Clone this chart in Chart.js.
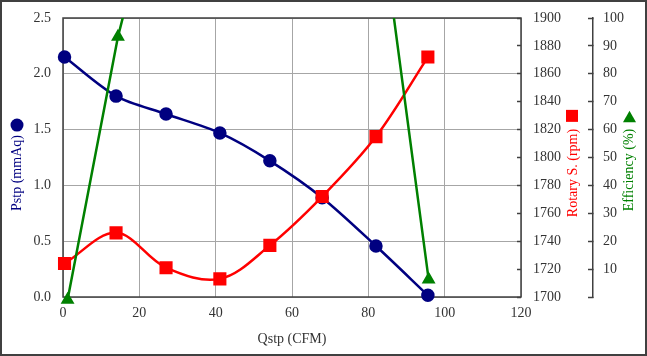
<!DOCTYPE html>
<html><head><meta charset="utf-8">
<script src="https://cdn.jsdelivr.net/npm/chart.js@4/dist/chart.umd.min.js"></script>
<style>html,body{margin:0;padding:0;background:#fff;} #c{display:block;}</style>
</head><body>
<canvas id="c" width="647" height="356"></canvas>
<script>
// ---- data ----
const qstp       = [0.4, 13.9, 27.0, 41.1, 54.2, 67.9, 82.0, 95.6];
const qstpEff    = [1.2, 14.4, 27.0, 41.1, 54.2, 67.9, 82.0, 95.8];
const pstp       = [2.15, 1.80, 1.64, 1.47, 1.22, 0.89, 0.457, 0.015];
const rotary     = [1724, 1746, 1721, 1713, 1737, 1772, 1815, 1872];
const efficiency = [-1, 93.3, 161, 185, 192, 178, 148.5, 6.3];

const xTitle   = 'Qstp (CFM)';
const yTitle   = 'Pstp (mmAq)';
const y2Title  = 'Rotary S. (rpm)';
const y3Title  = 'Efficiency (%)';

const BLUE = '#000080', RED = '#FF0000', GREEN = '#008000';
const AXIS = '#404040', GRID = '#A6A6A6', TXT = '#333333';
const FONT = {family: '"Liberation Serif", "Times New Roman", serif', size: 14};

const pts = (xs, ys) => xs.map((x, i) => ({x, y: ys[i]}));
const noPad = s => { s.paddingTop = 0; s.paddingBottom = 0; s.paddingLeft = 0; s.paddingRight = 0; };

const deco = {
  id: 'deco',
  beforeDraw(chart) {
    const ctx = chart.ctx;
    ctx.save(); ctx.fillStyle = '#fff'; ctx.fillRect(0, 0, chart.width, chart.height); ctx.restore();
  },
  beforeDatasetsDraw(chart) {
    const {ctx, chartArea: a} = chart;
    ctx.save(); ctx.strokeStyle = AXIS; ctx.lineWidth = 1.5;
    ctx.strokeRect(a.left, a.top, a.right - a.left, a.bottom - a.top);
    ctx.restore();
  },
  afterDraw(chart) {
    const ctx = chart.ctx;
    ctx.save();
    // outer frame
    ctx.strokeStyle = AXIS; ctx.lineWidth = 2;
    ctx.strokeRect(1, 1, chart.width - 2, chart.height - 2);
    ctx.font = FONT.size + 'px ' + FONT.family;
    const vtext = (text, x, y, color) => {
      ctx.save(); ctx.translate(x, y); ctx.rotate(-Math.PI / 2);
      ctx.textAlign = 'center'; ctx.textBaseline = 'middle'; ctx.fillStyle = color;
      ctx.fillText(text, 0, 0); ctx.restore();
      return ctx.measureText(text).width;
    };
    // left title + circle
    let w = vtext(yTitle, 17, 173, BLUE);
    ctx.fillStyle = BLUE; ctx.beginPath(); ctx.arc(17, 173 - w / 2 - 10, 6.5, 0, Math.PI * 2); ctx.fill();
    // rotary title + square
    w = vtext(y2Title, 573, 173, RED);
    ctx.fillStyle = RED; ctx.fillRect(566, 173 - w / 2 - 19, 12, 12);
    // efficiency title + triangle
    w = vtext(y3Title, 629, 170, GREEN);
    const ty = 170 - w / 2 - 12;
    ctx.fillStyle = GREEN; ctx.beginPath();
    ctx.moveTo(629.5, ty - 6); ctx.lineTo(636, ty + 5.5); ctx.lineTo(623, ty + 5.5); ctx.closePath(); ctx.fill();
    ctx.restore();
  }
};

new Chart(document.getElementById('c'), {
  type: 'line',
  data: {
    datasets: [
      {label: 'Pstp', data: pts(qstp, pstp), yAxisID: 'y', borderColor: BLUE, backgroundColor: BLUE,
       borderWidth: 2.5, pointStyle: 'circle', pointRadius: 5.5, tension: 0.3, clip: false, order: 3},
      {label: 'Rotary', data: pts(qstp, rotary), yAxisID: 'y2', borderColor: RED, backgroundColor: RED,
       borderWidth: 2.5, pointStyle: 'rect', pointRadius: 7.5, tension: 0.35, clip: false, order: 2},
      {label: 'Efficiency', data: pts(qstpEff, efficiency), yAxisID: 'y3', borderColor: GREEN, backgroundColor: GREEN,
       borderWidth: 2.5, pointStyle: 'triangle', pointRadius: 5.5, tension: 0,
       clip: {left: 10, right: 10, top: 0, bottom: 10}, order: 1}
    ]
  },
  options: {
    responsive: false, animation: false, devicePixelRatio: 1,
    layout: {padding: {top: 18, left: 0, right: 0, bottom: 0}},
    plugins: {legend: {display: false}, tooltip: {enabled: false}},
    scales: {
      x: {type: 'linear', min: 0, max: 120,
          ticks: {stepSize: 20, font: FONT, color: TXT, padding: 8, maxRotation: 0},
          grid: {color: GRID, drawTicks: false},
          border: {display: false},
          title: {display: true, text: xTitle, font: FONT, color: TXT, padding: {top: 0, bottom: 8}},
          afterFit: s => { s.height = 59; noPad(s); }},
      y: {position: 'left', min: 0, max: 2.5,
          ticks: {stepSize: 0.5, font: FONT, color: TXT, padding: 12, callback: v => Number(v).toFixed(1)},
          grid: {color: GRID, drawTicks: false},
          border: {display: false},
          afterFit: s => { s.width = 63; noPad(s); }},
      y2: {position: 'right', min: 1700, max: 1900,
          ticks: {stepSize: 20, font: FONT, color: TXT, padding: 16, callback: v => String(v)},
          grid: {drawOnChartArea: false, drawTicks: true, tickLength: -4, tickColor: AXIS, tickWidth: 1.5},
          border: {display: false},
          afterFit: s => { s.width = 72; noPad(s); }},
      y3: {position: 'right', min: 0, max: 100,
          ticks: {stepSize: 10, font: FONT, color: TXT, padding: 15, callback: v => (v === 0 ? '' : String(v))},
          grid: {drawOnChartArea: false, drawTicks: true, tickLength: -5, tickColor: AXIS, tickWidth: 1.5},
          border: {display: true, color: AXIS, width: 1.5},
          afterFit: s => { s.width = 54; noPad(s); }}
    }
  },
  plugins: [deco]
});
</script>
</body></html>
